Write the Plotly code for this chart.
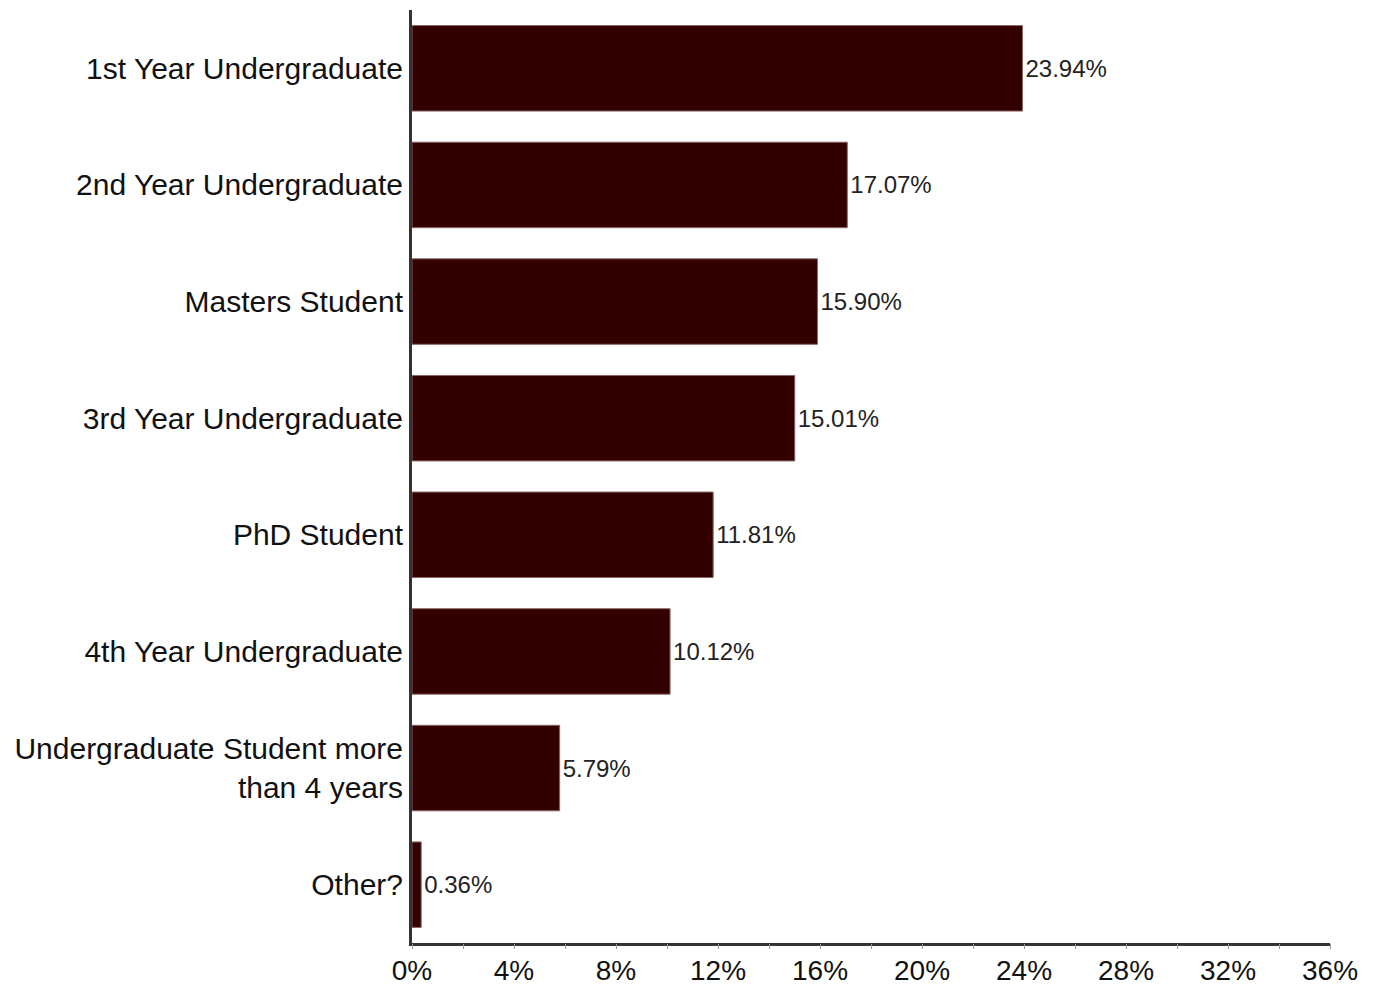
import plotly.graph_objects as go

categories = [
    "1st Year Undergraduate",
    "2nd Year Undergraduate",
    "Masters Student",
    "3rd Year Undergraduate",
    "PhD Student",
    "4th Year Undergraduate",
    "Undergraduate Student more<br>than 4 years",
    "Other?",
]
values = [23.94, 17.07, 15.90, 15.01, 11.81, 10.12, 5.79, 0.36]
labels = [f"{v:.2f}%" for v in values]

FONT = "Liberation Sans, Arial, sans-serif"

fig = go.Figure()
fig.add_trace(
    go.Bar(
        x=values,
        y=categories,
        orientation="h",
        marker=dict(color="#330000", line=dict(color="#8a6464", width=1)),
        text=labels,
        textposition="outside",
        textfont=dict(family=FONT, size=24, color="#222"),
        cliponaxis=False,
        hoverinfo="x+y",
    )
)
# empty helper trace so the tick-only overlay axis is drawn
fig.add_trace(go.Scatter(x=[], y=[], xaxis="x2", yaxis="y", showlegend=False, hoverinfo="skip"))

fig.update_layout(
    width=1360,
    height=980,
    margin=dict(l=404, r=38, t=2, b=45),
    plot_bgcolor="white",
    paper_bgcolor="white",
    bargap=0.267,
    showlegend=False,
    font=dict(family=FONT, color="#111"),
    xaxis=dict(
        range=[0, 36],
        dtick=4,
        ticksuffix="%",
        showgrid=False,
        zeroline=False,
        showline=True,
        linecolor="#333",
        linewidth=3,
        ticks="",
        tickfont=dict(size=28, color="#111"),
        automargin=False,
    ),
    xaxis2=dict(
        overlaying="x",
        anchor="y",
        side="bottom",
        range=[0, 36],
        dtick=2,
        ticks="outside",
        ticklen=5,
        tickcolor="#999",
        showticklabels=False,
        showgrid=False,
        zeroline=False,
        showline=False,
        automargin=False,
    ),
    yaxis=dict(
        autorange="reversed",
        showgrid=False,
        zeroline=False,
        showline=True,
        linecolor="#333",
        linewidth=3,
        ticks="",
        tickfont=dict(size=30, color="#111"),
        ticklabelstandoff=0,
        automargin=False,
    ),
)

fig.write_html("out.html")
